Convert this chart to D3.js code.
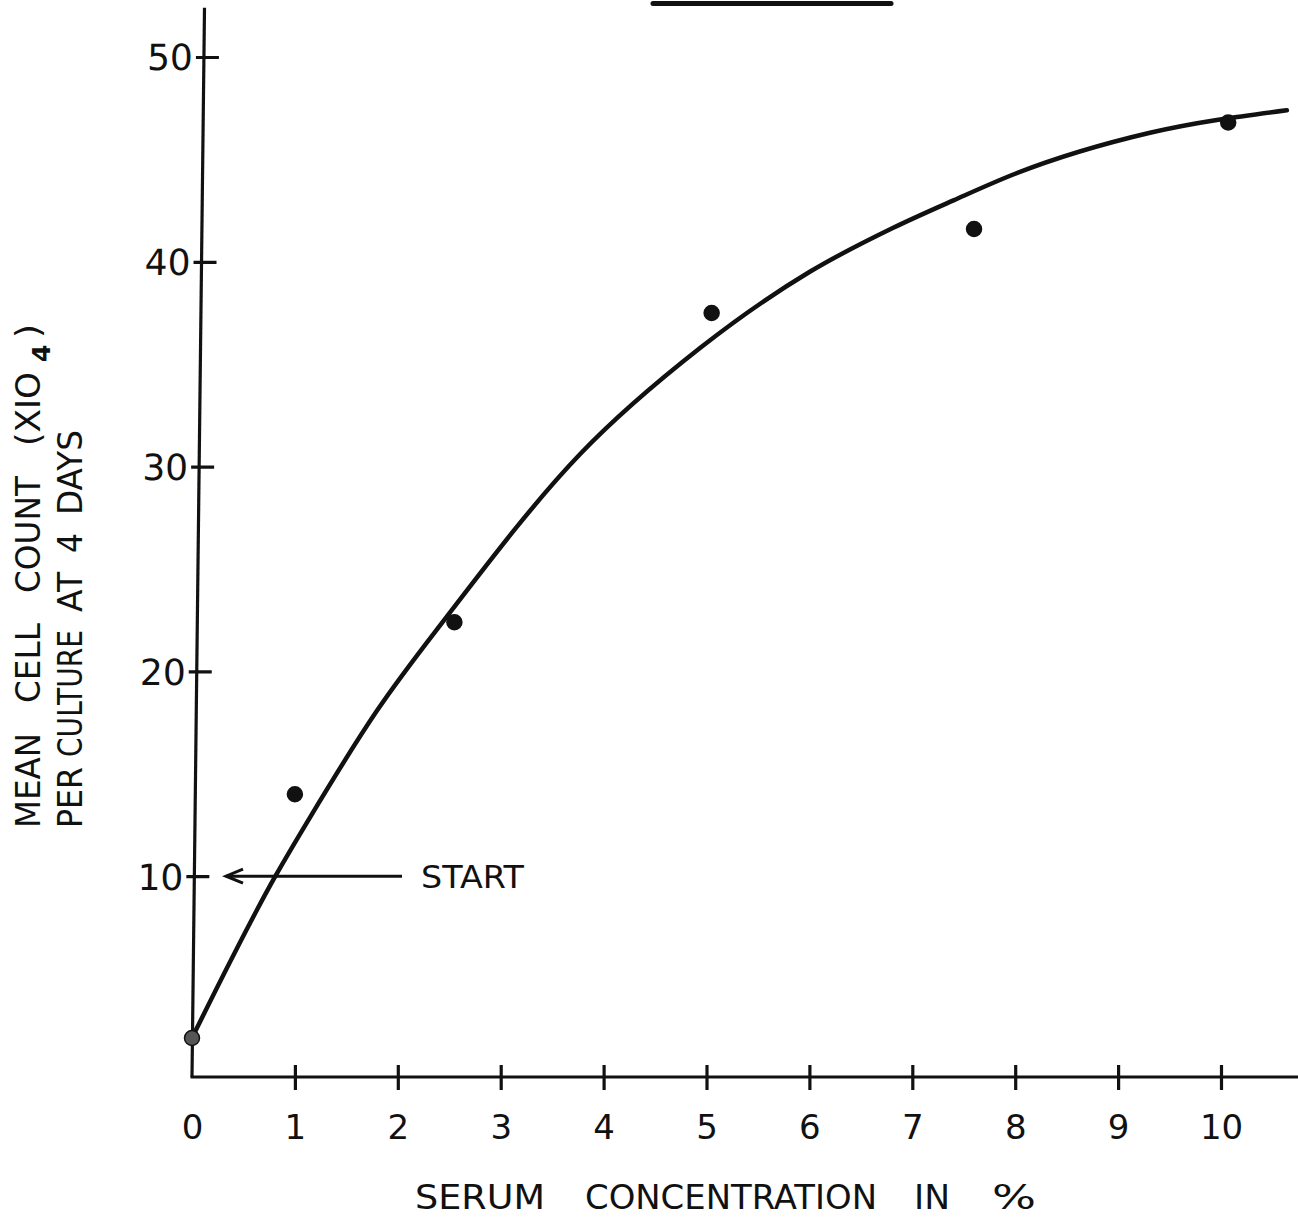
<!DOCTYPE html>
<html>
<head>
<meta charset="utf-8">
<script src="https://cdn.jsdelivr.net/npm/d3@7"></script>
<style>
  html, body { margin: 0; padding: 0; background: #fff; }
  svg { display: block; }
  text { font-family: "DejaVu Sans", "Liberation Sans", sans-serif; fill: #111; }
</style>
</head>
<body>
<script>
// Measured cell counts (x10^4 per culture at 4 days) by serum concentration
const serumPct  = [0, 1.0, 2.55, 5.05, 7.6, 10.07];
const cellCount = [2.1, 14.0, 22.4, 37.5, 41.6, 46.8];

// Hand-fitted growth curve through the data
const fitPct   = [0, 0.81, 1.15, 1.8, 2.48, 3.77, 4.94, 6.0, 6.81, 7.4, 8.0, 9.31, 10.64];
const fitCount = [2.1, 10.0, 12.9, 18.1, 22.7, 30.6, 35.8, 39.5, 41.65, 43.0, 44.3, 46.3, 47.4];

// Axis ticks and labels
const xTicks = [0, 1, 2, 3, 4, 5, 6, 7, 8, 9, 10];
const yTicks = [10, 20, 30, 40, 50];
const startLevel = 10;
const xTitleWords = ["SERUM", "CONCENTRATION", "IN", "%"];

const W = 1298, H = 1222;
const svg = d3.select("body").append("svg").attr("width", W).attr("height", H);

const x = d3.scaleLinear().domain([0, 10]).range([192, 1221]);
const y = d3.scaleLinear().domain([0, 50]).range([1081, 57]);
const axisY = 1077;
const ink = "#111";

// Title underline fragment at the top
svg.append("line")
  .attr("x1", 653).attr("x2", 891).attr("y1", 3.5).attr("y2", 3.5)
  .attr("stroke", ink).attr("stroke-width", 5).attr("stroke-linecap", "round");

// ---- Y axis (slightly leaning, as drawn by hand) ----
const gy = svg.append("g")
  .attr("transform", `translate(192,${axisY}) skewX(-0.67) translate(-192,${-axisY})`);
gy.append("line")
  .attr("x1", x(0)).attr("x2", x(0))
  .attr("y1", y(52.4)).attr("y2", axisY)
  .attr("stroke", ink).attr("stroke-width", 3.2);
const yAxis = gy.append("g")
  .attr("transform", `translate(${x(0)},0)`)
  .call(d3.axisLeft(y).tickValues(yTicks).tickSize(-15).tickPadding(11).tickFormat(d3.format("d")));
yAxis.select(".domain").remove();
yAxis.selectAll(".tick line").attr("x1", -8).attr("x2", 15).attr("stroke", ink).attr("stroke-width", 3.2);
yAxis.selectAll(".tick text")
  .attr("font-size", 36).attr("font-family", "DejaVu Sans").attr("fill", ink).attr("dy", "0.36em");

// ---- X axis ----
svg.append("line")
  .attr("x1", x(0) - 1.5).attr("x2", W)
  .attr("y1", axisY).attr("y2", axisY)
  .attr("stroke", ink).attr("stroke-width", 3.2);
const xAxis = svg.append("g")
  .attr("transform", `translate(0,${axisY})`)
  .call(d3.axisBottom(x).tickValues(xTicks).tickSize(13).tickPadding(49).tickFormat(d3.format("d")));
xAxis.select(".domain").remove();
xAxis.selectAll(".tick line")
  .attr("y1", -12).attr("y2", 13).attr("stroke", ink).attr("stroke-width", 3.2)
  .filter(d => d === 0).remove();
xAxis.selectAll(".tick text")
  .attr("font-size", 34).attr("font-family", "DejaVu Sans").attr("fill", ink).attr("dy", "0");

// ---- X axis title, word by word ----
const xTitleSpans = [[415, 545], [585, 877], [914, 950], [992, 1036]];
svg.append("g").selectAll("text").data(xTitleWords).join("text")
  .attr("x", (d, i) => xTitleSpans[i][0])
  .attr("y", 1209)
  .attr("font-size", 33)
  .attr("textLength", (d, i) => xTitleSpans[i][1] - xTitleSpans[i][0])
  .attr("lengthAdjust", "spacingAndGlyphs")
  .text(d => d);

// ---- Y axis title (two rotated lines), word by word ----
const yTitleWords = [
  { t: "MEAN",    bx: 40, y0: 828, y1: 733 },
  { t: "CELL",    bx: 40, y0: 703, y1: 623 },
  { t: "COUNT",   bx: 40, y0: 593, y1: 476 },
  { t: "(XIO",    bx: 40, y0: 446, y1: 372 },
  { t: ")",       bx: 40, y0: 338, y1: 324 },
  { t: "PER",     bx: 82, y0: 828, y1: 767 },
  { t: "CULTURE", bx: 82, y0: 757, y1: 630 },
  { t: "AT",      bx: 82, y0: 612, y1: 572 },
  { t: "4",       bx: 82, y0: 553, y1: 533 },
  { t: "DAYS",    bx: 82, y0: 515, y1: 430 }
];
svg.append("g").selectAll("text").data(yTitleWords).join("text")
  .attr("transform", d => `translate(${d.bx},${d.y0}) rotate(-90)`)
  .attr("font-size", 34)
  .attr("textLength", d => d.y0 - d.y1)
  .attr("lengthAdjust", "spacingAndGlyphs")
  .text(d => d.t);
// exponent on the x10 multiplier
svg.append("text")
  .attr("transform", "translate(50,362) rotate(-90)")
  .attr("font-size", 25).attr("font-weight", "bold")
  .text("4");

// ---- START arrow at the initial inoculum level ----
const sy = y(startLevel);
svg.append("line")
  .attr("x1", 226).attr("x2", 402).attr("y1", sy).attr("y2", sy)
  .attr("stroke", ink).attr("stroke-width", 3);
svg.append("path")
  .attr("d", `M243,${sy - 7} L226,${sy} L243,${sy + 7}`)
  .attr("fill", "none").attr("stroke", ink).attr("stroke-width", 3)
  .attr("stroke-linejoin", "miter");
svg.append("text")
  .attr("x", 421).attr("y", sy + 12)
  .attr("font-size", 32)
  .attr("textLength", 103).attr("lengthAdjust", "spacingAndGlyphs")
  .text("START");

// ---- Fitted curve ----
const fit = fitPct.map((p, i) => [p, fitCount[i]]);
svg.append("path")
  .datum(fit)
  .attr("d", d3.line().x(d => x(d[0])).y(d => y(d[1])).curve(d3.curveMonotoneX))
  .attr("fill", "none").attr("stroke", ink).attr("stroke-width", 4.5).attr("stroke-linecap", "round");

// ---- Data points ----
const pts = serumPct.map((p, i) => ({ p, c: cellCount[i] }));
svg.append("g").selectAll("circle").data(pts).join("circle")
  .attr("cx", d => x(d.p))
  .attr("cy", d => y(d.c))
  .attr("r", 7.5)
  .attr("fill", (d, i) => i === 0 ? "#555" : ink)
  .attr("stroke", ink).attr("stroke-width", 1.5);
</script>
</body>
</html>
